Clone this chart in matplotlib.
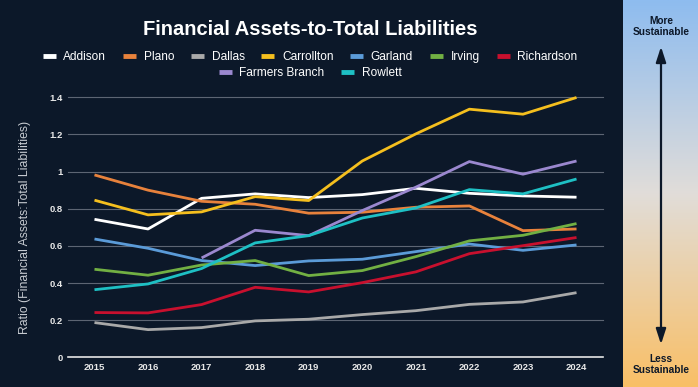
import numpy as np
import matplotlib
matplotlib.use("Agg")
import matplotlib.pyplot as plt
from matplotlib.colors import LinearSegmentedColormap
from matplotlib.lines import Line2D

years = [2015, 2016, 2017, 2018, 2019, 2020, 2021, 2022, 2023, 2024]
addison = [0.743, 0.691, 0.856, 0.880, 0.860, 0.876, 0.910, 0.883, 0.869, 0.862]
plano = [0.982, 0.900, 0.840, 0.824, 0.776, 0.781, 0.808, 0.815, 0.682, 0.691]
dallas = [0.187, 0.149, 0.160, 0.196, 0.205, 0.230, 0.251, 0.285, 0.298, 0.348]
carrollton = [0.846, 0.767, 0.783, 0.865, 0.844, 1.057, 1.203, 1.336, 1.309, 1.399]
garland = [0.637, 0.587, 0.521, 0.494, 0.519, 0.528, 0.569, 0.610, 0.576, 0.605]
irving = [0.474, 0.442, 0.497, 0.521, 0.440, 0.467, 0.542, 0.627, 0.657, 0.720]
richardson = [0.241, 0.239, 0.284, 0.377, 0.352, 0.402, 0.460, 0.558, 0.601, 0.645]
farmers_branch = [None, None, 0.535, 0.684, 0.655, 0.790, 0.916, 1.054, 0.986, 1.057]
rowlett = [0.364, 0.395, 0.478, 0.616, 0.655, 0.750, 0.804, 0.903, 0.880, 0.960]

series_names = ["Addison", "Plano", "Dallas", "Carrollton", "Garland", "Irving",
                "Richardson", "Farmers Branch", "Rowlett"]
series_values = [addison, plano, dallas, carrollton, garland, irving, richardson,
                 farmers_branch, rowlett]
colors = ["#ffffff", "#e8823c", "#a9a9a9", "#f5bf1e", "#5b9bd8", "#72b043",
          "#c8102e", "#9b88cf", "#1ec0c4"]
yticks = [0, 0.2, 0.4, 0.6, 0.8, 1, 1.2, 1.4]
ytick_labels = ["0", "0.2", "0.4", "0.6", "0.8", "1", "1.2", "1.4"]

font_arial = ["Liberation Sans", "DejaVu Sans"]

BG = "#0c1829"
W, H = 698, 387
fig = plt.figure(figsize=(W / 100, H / 100), dpi=100, facecolor=BG)

# Main axes
left, right = 67.7, 603.3
top, bottom = 97.3, 357.3
ax = fig.add_axes([left / W, 1 - bottom / H, (right - left) / W, (bottom - top) / H])
ax.set_facecolor(BG)
ax.set_xlim(2014.5, 2024.5)
ax.set_ylim(0, 1.4)

for y in yticks[1:]:
    ax.axhline(y, color="#5d6573", lw=0.8, zorder=1, clip_on=False)
ax.axhline(0, color="#e6e6e6", lw=1.2, zorder=1, clip_on=False)

for name, vals, c in zip(series_names, series_values, colors):
    v = np.array([np.nan if x is None else x for x in vals], dtype=float)
    ax.plot(years, v, color=c, lw=2.0, label=name, zorder=3,
            solid_capstyle="butt", clip_on=False)

for s in ax.spines.values():
    s.set_visible(False)
ax.set_xticks(years)
ax.set_xticklabels([str(y) for y in years], fontsize=6.8, fontweight="bold",
                   color="#e8e8e8", family=font_arial)
ax.set_yticks(yticks)
ax.set_yticklabels(ytick_labels, fontsize=6.8, fontweight="bold",
                   color="#e8e8e8", family=font_arial)
ax.tick_params(axis="both", length=0)
ax.tick_params(axis="x", pad=4)
ax.tick_params(axis="y", pad=3.5)
ax.set_ylabel("Ratio (Financial Assets:Total Liabilities)", fontsize=8.8,
              color="#c8ccd2", family=font_arial, labelpad=13)

# Title
fig.text(310 / W, 1 - 34.7 / H, "Financial Assets-to-Total Liabilities",
         ha="center", va="baseline", fontsize=14.5, fontweight="bold",
         color="white", family=font_arial)

# Legends (two centered rows)
def make_handle(c):
    return Line2D([0], [0], color=c, lw=3.5, solid_capstyle="butt")

row1 = list(range(7))
row2 = [7, 8]
leg_kw = dict(frameon=False, handlelength=1.09, handletextpad=0.62,
              columnspacing=1.42, borderaxespad=0, borderpad=0,
              prop={"family": font_arial, "size": 8.6})
leg1 = fig.legend([make_handle(colors[i]) for i in row1],
                  [series_names[i] for i in row1], ncol=7, loc="center",
                  bbox_to_anchor=(310 / W, 1 - 57 / H), **leg_kw)
leg2 = fig.legend([make_handle(colors[i]) for i in row2],
                  [series_names[i] for i in row2], ncol=2, loc="center",
                  bbox_to_anchor=(310 / W, 1 - 73 / H), **leg_kw)
for t in leg1.get_texts() + leg2.get_texts():
    t.set_color("white")

# Right gradient panel
px0 = 622.7
pax = fig.add_axes([px0 / W, 0, (W - px0) / W, 1])
cmap = LinearSegmentedColormap.from_list(
    "grad", [(0.0, "#8ebcef"), (0.5, "#e1ddd9"), (1.0, "#f9bf66")])
grad = np.linspace(0, 1, 256).reshape(-1, 1)
pax.imshow(grad, aspect="auto", cmap=cmap, extent=[0, 1, 1, 0])
pax.set_xlim(0, 1)
pax.set_ylim(1, 0)
pax.axis("off")

NAVY = "#0c1829"
cx = (661 - px0) / (W - px0)
pax.text(cx, 26.7 / H, "More\nSustainable", ha="center", va="center",
         fontsize=7.3, fontweight="bold", color=NAVY, family=font_arial,
         linespacing=1.05)
pax.text(cx, 364.5 / H, "Less\nSustainable", ha="center", va="center",
         fontsize=7.3, fontweight="bold", color=NAVY, family=font_arial,
         linespacing=1.05)
pax.annotate("", xy=(cx, 46.7 / H), xytext=(cx, 344.3 / H),
             arrowprops=dict(arrowstyle="<|-|>,head_length=0.4,head_width=0.13",
                             color=NAVY, lw=1.6, mutation_scale=23,
                             shrinkA=0, shrinkB=0))

fig.savefig("out.png", dpi=100, facecolor=BG)
